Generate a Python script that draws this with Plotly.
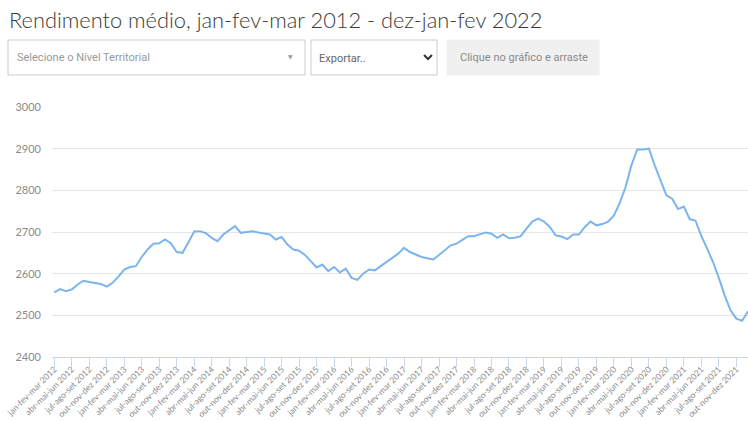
import plotly.graph_objects as go

# ---- data ----
meses = ["jan", "fev", "mar", "abr", "mai", "jun", "jul", "ago", "set", "out", "nov", "dez"]
periodos = []
for i in range(120):
    m = i % 12
    a, b, c = meses[m], meses[(m + 1) % 12], meses[(m + 2) % 12]
    ano = 2012 + (i + 2) // 12
    periodos.append(f"{a}-{b}-{c} {ano}")

rendimento = [
    2555, 2563, 2558, 2562, 2574, 2583, 2580, 2577, 2575, 2569,
    2578, 2593, 2610, 2616, 2618, 2640, 2658, 2672, 2673, 2682,
    2673, 2652, 2650, 2675, 2701, 2702, 2697, 2686, 2678, 2694,
    2703, 2714, 2698, 2700, 2702, 2699, 2697, 2694, 2682, 2688,
    2670, 2658, 2655, 2645, 2630, 2615, 2622, 2606, 2616, 2603,
    2612, 2590, 2585, 2600, 2610, 2608, 2618, 2628, 2638, 2648,
    2662, 2652, 2646, 2640, 2637, 2634, 2645, 2657, 2668, 2672,
    2680, 2690, 2690, 2695, 2699, 2696, 2686, 2694, 2685, 2686,
    2690, 2708, 2725, 2732, 2725, 2712, 2692, 2689, 2683, 2694,
    2694, 2712, 2725, 2716, 2719, 2725, 2740, 2770, 2808, 2860,
    2898, 2898, 2900, 2860, 2826, 2788, 2780, 2755, 2761, 2731,
    2727, 2690, 2660, 2628, 2590, 2548, 2512, 2492, 2487, 2510,
]
y_ticks = [2400, 2500, 2600, 2700, 2800, 2900, 3000]
x_ticks = periodos[::3]

titulo = "Rendimento médio, jan-fev-mar 2012 - dez-jan-fev 2022"

# ---- layout geometry ----
W, H = 748, 421
ML, MR, MT, MB = 52, 0, 107, 64
PW = W - ML - MR
PH = H - MT - MB


def px(x):
    return (x - ML) / PW


def py(y):
    return (H - MB - y) / PH


fig = go.Figure()
fig.add_trace(go.Scatter(
    x=periodos, y=rendimento, mode="lines",
    line=dict(color="#7cb5ec", width=2),
    hoverinfo="x+y",
))

shapes = [
    dict(type="rect", xref="paper", yref="paper", x0=px(8), x1=px(305), y0=py(75), y1=py(40),
         line=dict(color="#cccccc", width=1), fillcolor="white", layer="above"),
    dict(type="rect", xref="paper", yref="paper", x0=px(311), x1=px(437), y0=py(75), y1=py(40),
         line=dict(color="#cccccc", width=1), fillcolor="white", layer="above"),
    dict(type="rect", xref="paper", yref="paper", x0=px(447), x1=px(599), y0=py(75), y1=py(40),
         line=dict(color="#f0f0f0", width=1), fillcolor="#f0f0f0", layer="above"),
    dict(type="path", xref="paper", yref="paper",
         path=f"M {px(424)} {py(55)} L {px(428)} {py(59)} L {px(432)} {py(55)}",
         line=dict(color="#333333", width=2), layer="above"),
]

ann = [
    dict(text=titulo, x=px(7), y=py(20), xref="paper", yref="paper", xanchor="left", yanchor="middle",
         showarrow=False, font=dict(family="Lato, 'Open Sans', sans-serif", size=21.8, color="#3a3a3a", weight=300)),
    dict(text="Selecione o Nível Territorial", x=px(15), y=py(57), xref="paper", yref="paper",
         xanchor="left", yanchor="middle", showarrow=False,
         font=dict(family="Roboto, sans-serif", size=11, color="#9a9a9a")),
    dict(text="▼", x=px(290), y=py(56), xref="paper", yref="paper",
         xanchor="center", yanchor="middle", showarrow=False,
         font=dict(family="DejaVu Sans, sans-serif", size=6, color="#9a9a9a")),
    dict(text="Exportar..", x=px(317), y=py(58), xref="paper", yref="paper",
         xanchor="left", yanchor="middle", showarrow=False,
         font=dict(family="Roboto, sans-serif", size=11, color="#666666")),
    dict(text="Clique no gráfico e arraste", x=px(524), y=py(57), xref="paper", yref="paper",
         xanchor="center", yanchor="middle", showarrow=False,
         font=dict(family="Roboto, sans-serif", size=11, color="#8a8a8a")),
]

fig.update_layout(
    width=W, height=H,
    margin=dict(l=ML, r=MR, t=MT, b=MB, pad=0),
    paper_bgcolor="white", plot_bgcolor="white",
    showlegend=False,
    shapes=shapes,
    annotations=ann,
    font=dict(family="Lato, 'Open Sans', sans-serif", color="#666666"),
)
fig.update_xaxes(
    type="category",
    range=[-0.39, 119],
    tickmode="array", tickvals=x_ticks, ticktext=x_ticks,
    tickangle=-45,
    tickfont=dict(size=8.5, color="#8a8a8a"),
    ticks="outside", ticklen=9, tickcolor="#ccd6eb", tickwidth=1,
    ticklabelstandoff=-6,
    showline=True, linecolor="#ccd6eb", linewidth=1,
    showgrid=False, zeroline=False,
    fixedrange=True, automargin=False,
)
fig.update_yaxes(
    range=[2400, 3000],
    tickmode="array", tickvals=y_ticks,
    tickfont=dict(size=11, color="#8a8a8a"),
    showgrid=True, gridcolor="#e6e6e6", gridwidth=1,
    zeroline=False, showline=False,
    ticks="", ticklabelstandoff=10,
    fixedrange=True, automargin=False,
)

fig.write_html(
    "out.html",
    config={"displayModeBar": False},
    post_script="document.body.style.margin='0';document.body.style.overflow='hidden';",
)
